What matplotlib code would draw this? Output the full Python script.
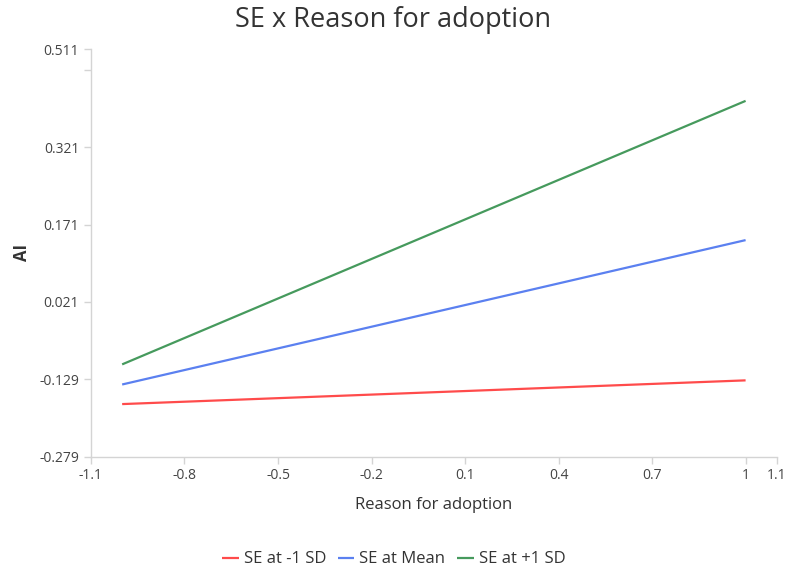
import matplotlib
matplotlib.use("Agg")
import matplotlib.pyplot as plt

plt.rcParams['font.family'] = ['Open Sans', 'DejaVu Sans']

# moderator levels and simple slopes at x = -1 and x = 1
x_ends = [-1, 1]
series_names = ["SE at -1 SD", "SE at Mean", "SE at +1 SD"]
low_sd = [-0.177, -0.131]
mean_se = [-0.139, 0.141]
high_sd = [-0.100, 0.411]
colors = ["#ff4b4b", "#5b80f0", "#469a5d"]

x_ticks = [-1.1, -0.8, -0.5, -0.2, 0.1, 0.4, 0.7, 1, 1.1]
x_tick_labels = ["-1.1", "-0.8", "-0.5", "-0.2", "0.1", "0.4", "0.7", "1", "1.1"]
y_ticks = [-0.279, -0.129, 0.021, 0.171, 0.321, 0.471, 0.511]
y_tick_labels = ["-0.279", "-0.129", "0.021", "0.171", "0.321", "", "0.511"]

fig = plt.figure(figsize=(7.87, 5.72), dpi=100)
ax = fig.add_axes([0.1156, 0.2016, 0.8714, 0.7122])

for name, vals, c in zip(series_names, [low_sd, mean_se, high_sd], colors):
    ax.plot(x_ends, vals, color=c, lw=1.6, label=name, solid_capstyle='butt')

ax.set_xlim(-1.1, 1.1)
ax.set_ylim(-0.279, 0.511)
ax.set_xticks(x_ticks)
ax.set_xticklabels(x_tick_labels)
ax.set_yticks(y_ticks)
ax.set_yticklabels(y_tick_labels)

for s in ["top", "right"]:
    ax.spines[s].set_visible(False)
for s in ["left", "bottom"]:
    ax.spines[s].set_color("#d4d4d4")
    ax.spines[s].set_linewidth(1)
ax.tick_params(axis="both", colors="#d4d4d4", labelcolor="#444444",
               labelsize=10, length=5, width=1)

ax.set_xlabel("Reason for adoption", fontsize=12, color="#333333", labelpad=10)
ax.set_ylabel("AI", fontsize=12, color="#333333", fontweight="bold", labelpad=6)
fig.suptitle("SE x Reason for adoption", fontsize=19.5, color="#333333", y=0.99)

fig.legend(loc="center", bbox_to_anchor=(0.5, 0.022), ncol=3, frameon=False,
           fontsize=12, handlelength=1.0, handletextpad=0.3, columnspacing=0.7,
           labelcolor="#333333")

fig.savefig("out.png", dpi=100)
